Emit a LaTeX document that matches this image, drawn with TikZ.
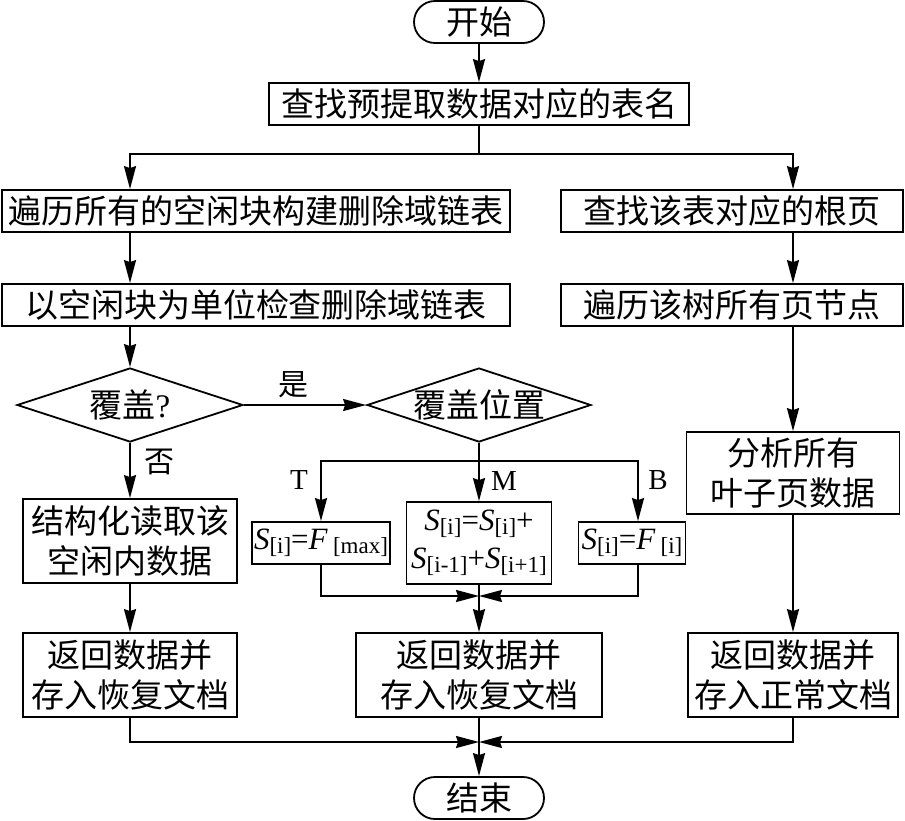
\documentclass[tikz,border=0pt]{standalone}
\usepackage{fontspec}
\setmainfont{Liberation Serif}
\newfontfamily\cjk{Noto Sans CJK SC}
\usetikzlibrary{arrows.meta,shapes.misc,shapes.geometric}
\tikzset{
  every node/.style={inner sep=0pt},
  pbox/.style={draw, line width=1.8pt, rectangle, align=center, font=\cjk\fontsize{33}{40}\selectfont},
  term/.style={draw, line width=1.8pt, rounded rectangle, minimum width=130pt, minimum height=42pt, font=\cjk\fontsize{33}{40}\selectfont},
  dia/.style={draw, line width=1.8pt, diamond, inner sep=0pt},
  mbox/.style={draw, line width=1.8pt, rectangle, align=center, font=\fontsize{31}{38}\selectfont},
  arr/.style={line width=1.8pt, -{Stealth[length=23pt,width=12pt,inset=2pt]}},
  ln/.style={line width=1.8pt},
  lab/.style={font=\fontsize{29}{30}\selectfont},
  clab/.style={font=\cjk\fontsize{30}{30}\selectfont},
  dtext/.style={font=\cjk\fontsize{33}{40}\selectfont},
}
\newcommand{\subx}[1]{\raisebox{-0.28ex}{\fontsize{23}{23}\selectfont[#1]}}
\newcommand{\Sv}[1]{\textit{S}\subx{#1}}
\newcommand{\Fv}[1]{\textit{F}\,\subx{#1}}
\begin{document}
\begin{tikzpicture}[x=1pt,y=-1pt]
\useasboundingbox[fill=white] (0,0) rectangle (905,820);
% nodes
\node[term] (start) at (479,22) {开始};
\node[pbox, minimum width=420pt, minimum height=42pt] (b1) at (479,104) {查找预提取数据对应的表名};
\node[pbox, minimum width=508pt, minimum height=42pt] (L1) at (256,211) {遍历所有的空闲块构建删除域链表};
\node[pbox, minimum width=342pt, minimum height=42pt] (R1) at (732,211) {查找该表对应的根页};
\node[pbox, minimum width=508pt, minimum height=42pt] (L2) at (256,305) {以空闲块为单位检查删除域链表};
\node[pbox, minimum width=342pt, minimum height=42pt] (R2) at (732,305) {遍历该树所有页节点};
\node[dia, minimum width=226pt, minimum height=74pt] (D1) at (130,405) {};
\node[dtext] (D1t) at (130,405) {覆盖{\fontspec{Liberation Serif}?}};
\node[dia, minimum width=224pt, minimum height=74pt] (D2) at (479,405) {};
\node[dtext] (D2t) at (479,405) {覆盖位置};
\node[pbox, minimum width=214pt, minimum height=84pt] (LB) at (130,541) {结构化读取该\\空闲内数据};
\node[mbox, minimum width=138pt, minimum height=42pt] (TB) at (321,543) {\Sv{i}=\Fv{max}};
\node[mbox, minimum width=145pt, minimum height=82pt] (MB) at (479,543) {\Sv{i}=\Sv{i}+\\\Sv{i-1}+\Sv{i+1}};
\node[mbox, minimum width=107pt, minimum height=42pt] (BB) at (632,543) {\Sv{i}=\Fv{i}};
\node[pbox, minimum width=213pt, minimum height=82pt] (R3) at (793,473) {分析所有\\叶子页数据};
\node[pbox, minimum width=214pt, minimum height=84pt] (LR) at (130,675) {返回数据并\\存入恢复文档};
\node[pbox, minimum width=246pt, minimum height=84pt] (MM) at (479,675) {返回数据并\\存入恢复文档};
\node[pbox, minimum width=210pt, minimum height=84pt] (RR) at (793,675) {返回数据并\\存入正常文档};
\node[term] (end) at (479,798) {结束};
% labels
\node[clab] (lyes) at (293,385) {是};
\node[clab] (lno) at (159,462) {否};
\node[lab] (lT) at (299,480) {T};
\node[lab] (lM) at (504,481) {M};
\node[lab] (lB) at (658,480) {B};
% coordinates
\coordinate (s1) at (479,154);
\coordinate (sp) at (479,461);
\coordinate (Bx) at (638,461);
\coordinate (mg) at (479,596);
\coordinate (mg2) at (479,742);
% connectors
\draw[arr] (start) -- (b1);
\draw[ln] (b1) -- (s1);
\draw[arr] (s1) -| (L1.north -| D1);
\draw[arr] (s1) -| (R1.north -| R3);
\draw[arr] (L1.south -| D1) -- (L2.north -| D1);
\draw[arr] (R1.south -| R3) -- (R2.north -| R3);
\draw[arr] (L2.south -| D1) -- (D1.north);
\draw[arr] (R2.south -| R3) -- (R3.north);
\draw[arr] (D1.east) -- (D2.west);
\draw[arr] (D1.south) -- (LB.north);
\draw[arr] (D2.south) -- (MB.north);
\draw[arr] (sp) -| (TB.north);
\draw[arr] (sp) -- (Bx) -- (Bx |- BB.north);
\draw[arr] (TB.south) |- (mg);
\draw[arr] (BB.south -| Bx) |- (mg);
\draw[arr] (MB.south) -- (MM.north);
\draw[arr] (LB.south) -- (LR.north);
\draw[arr] (R3.south) -- (RR.north);
\draw[arr] (LR.south) |- (mg2);
\draw[arr] (RR.south) |- (mg2);
\draw[arr] (MM.south) -- (end.north);
\end{tikzpicture}
\end{document}
